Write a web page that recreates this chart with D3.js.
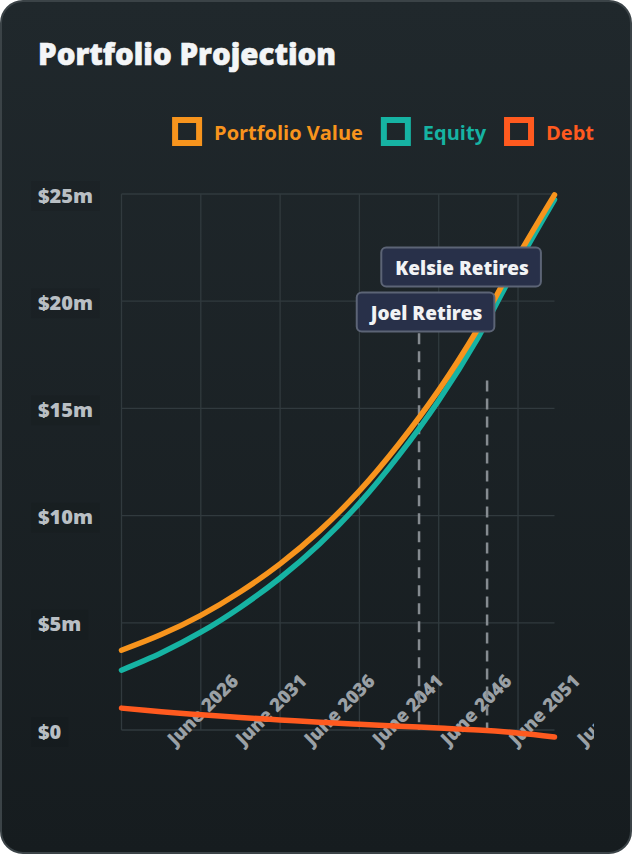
<!DOCTYPE html>
<html><head><meta charset="utf-8">
<script src="https://cdn.jsdelivr.net/npm/d3@7"></script>
<style>
html,body{margin:0;padding:0;background:#fff;}
svg{display:block;}
</style></head>
<body><svg id="chart" width="632" height="854"></svg>
<script>
// ---------- data ----------
const projectionYears = [0, 2.5, 5, 7.5, 10, 12.5, 15, 17.5, 20, 22.5, 25, 27.3];
const portfolioValue  = [3.72, 4.45, 5.35, 6.45, 7.75, 9.3, 11.15, 13.35, 15.85, 18.75, 22.1, 24.96];
const equityValue     = [2.79, 3.59, 4.56, 5.73, 7.09, 8.69, 10.58, 12.82, 15.37, 18.33, 21.77, 24.74];
const debtValue       = [1.02, 0.85, 0.71, 0.58, 0.47, 0.36, 0.27, 0.18, 0.09, 0.0, -0.14, -0.33];
const seriesNames  = ["Portfolio Value", "Equity", "Debt"];
const gridYears    = [0, 5, 10, 15, 20, 25];
const yTicks       = [0, 5, 10, 15, 20, 25];
const yTickLabels  = ["$0", "$5m", "$10m", "$15m", "$20m", "$25m"];
const xTickLabels  = ["June 2026", "June 2031", "June 2036", "June 2041", "June 2046", "June 2051", "June 2056"];
const retirementNames      = ["Joel Retires", "Kelsie Retires"];
const retirementYears      = [18.76, 23.05];
const retirementLineTop    = [18.5, 16.3];
const retirementLabelValue = [19.5, 21.6];

// ---------- style / layout ----------
const W = 632, H = 854;
const colors = ["#f7941d", "#16b3a3", "#ff5a1f"];
const plot = {left: 121.5, right: 554.5, top: 194, bottom: 730};
const labelFont = "'Open Sans', sans-serif";

const svg = d3.select("#chart");
const defs = svg.append("defs");
const grad = defs.append("linearGradient").attr("id", "bg").attr("x1", 0).attr("y1", 0).attr("x2", 0).attr("y2", 1);
grad.append("stop").attr("offset", "0%").attr("stop-color", "#20282c");
grad.append("stop").attr("offset", "100%").attr("stop-color", "#161c1f");
defs.append("clipPath").attr("id", "canvasClip").append("rect")
  .attr("x", 0).attr("y", 0).attr("width", 594).attr("height", H);

svg.append("rect").attr("x", 1).attr("y", 1).attr("width", W - 2).attr("height", H - 2)
  .attr("rx", 22).attr("fill", "url(#bg)").attr("stroke", "#3b4347").attr("stroke-width", 2);

// title
svg.append("text").attr("x", 38).attr("y", 65).text("Portfolio Projection")
  .attr("font-family", labelFont).attr("font-weight", 800).attr("font-size", 29.5)
  .attr("fill", "#f3f5f7").attr("stroke", "#f3f5f7").attr("stroke-width", 0.6);

// scales
const x = d3.scaleLinear().domain([0, 27.3]).range([plot.left, plot.right]);
const y = d3.scaleLinear().domain([0, 25]).range([plot.bottom, plot.top]);
const xLabel = d3.scaleLinear().domain([0, 1]).range([234.3, 302.6]);

// grid
const grid = svg.append("g").attr("stroke", "#313a3e").attr("stroke-width", 1.3);
grid.selectAll(".v").data(gridYears).join("line")
  .attr("x1", d => x(d)).attr("x2", d => x(d)).attr("y1", y(25)).attr("y2", y(0));
grid.selectAll(".h").data(yTicks).join("line")
  .attr("x1", x(0)).attr("x2", x(27.3)).attr("y1", d => y(d)).attr("y2", d => y(d));

// y labels with faint backdrops
const yl = svg.append("g");
yTicks.forEach((v, i) => {
  const g = yl.append("g");
  const bd = g.append("rect").attr("fill", "rgba(0,0,0,0.06)");
  const t = g.append("text").attr("x", 38).attr("y", y(v) + 1).attr("dominant-baseline", "central")
    .attr("font-family", labelFont).attr("font-weight", 800).attr("font-size", 20)
    .attr("fill", "#b9bfc4").text(yTickLabels[i]);
  const w = t.node().getComputedTextLength();
  bd.attr("x", 31).attr("y", y(v) - 13).attr("width", w + 14).attr("height", 30);
});

// x labels
const xl = svg.append("g").attr("clip-path", "url(#canvasClip)");
xTickLabels.forEach((lab, i) => {
  xl.append("text")
    .attr("transform", `translate(${xLabel(i)},677) rotate(-45)`)
    .attr("text-anchor", "end").attr("dominant-baseline", "central")
    .attr("font-family", labelFont).attr("font-weight", 800).attr("font-size", 18.5)
    .attr("fill", "#9aa0a5").text(lab);
});

// retirement dashed lines
retirementYears.forEach((t, i) => {
  svg.append("line").attr("x1", x(t)).attr("x2", x(t))
    .attr("y1", y(retirementLineTop[i])).attr("y2", y(0))
    .attr("stroke", "#858b90").attr("stroke-width", 2.5).attr("stroke-dasharray", "11,7");
});

// lines
const seriesData = [portfolioValue, equityValue, debtValue];
const line = d3.line().x((d, i) => x(projectionYears[i])).y(d => y(d)).curve(d3.curveCatmullRom.alpha(0.5));
[2, 1, 0].forEach(s => {
  svg.append("path").attr("d", line(seriesData[s])).attr("fill", "none")
    .attr("stroke", colors[s]).attr("stroke-width", 5.5)
    .attr("stroke-linecap", "round").attr("stroke-linejoin", "round");
});

// annotations
const labelOffsets = [6.5, -26];
retirementNames.forEach((name, i) => {
  const g = svg.append("g");
  const cx = x(retirementYears[i]) + labelOffsets[i];
  const cy = y(retirementLabelValue[i]);
  const box = g.append("rect").attr("fill", "#283049").attr("stroke", "#5c6476").attr("stroke-width", 2).attr("rx", 5);
  const t = g.append("text").attr("x", cx + 1).attr("y", cy + 1).attr("text-anchor", "middle")
    .attr("dominant-baseline", "central")
    .attr("font-family", labelFont).attr("font-weight", 800).attr("font-size", 19)
    .attr("fill", "#f2f3f5").text(name);
  const w = t.node().getComputedTextLength();
  const bw = w + 26;
  box.attr("x", cx - bw / 2).attr("y", cy - 19.5).attr("width", bw).attr("height", 39);
});

// legend (right aligned)
const legendY = 131.5;
let cursor = 594;
for (let s = seriesNames.length - 1; s >= 0; s--) {
  const t = svg.append("text").attr("y", legendY + 1).attr("dominant-baseline", "central")
    .attr("font-family", labelFont).attr("font-weight", 700).attr("font-size", 20)
    .attr("fill", colors[s]).text(seriesNames[s]);
  const w = t.node().getComputedTextLength();
  t.attr("x", cursor - w);
  const bx = cursor - w - 12 - 27;
  svg.append("rect").attr("x", bx).attr("y", legendY - 11.5).attr("width", 24).attr("height", 23)
    .attr("fill", "none").attr("stroke", colors[s]).attr("stroke-width", 6);
  cursor = bx - 3 - 18;
}
</script>
</body></html>
